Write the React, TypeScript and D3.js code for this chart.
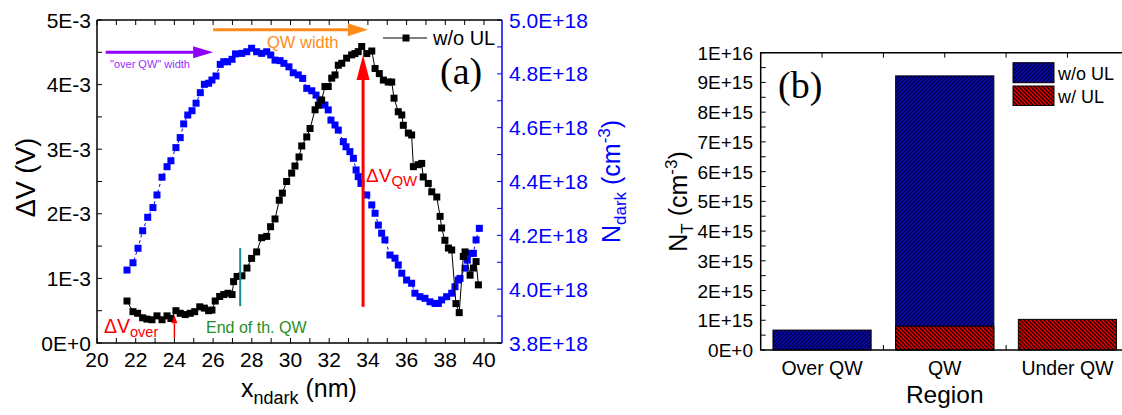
import React from "react";
import * as d3 from "d3";

// ---- panel (a): dV vs position (black, left axis, units 1E-3 V)
const xDv = [21.55, 21.86, 22.1, 22.36, 22.58, 22.84, 23.1, 23.36, 23.62, 23.82, 24.08, 24.3, 24.56, 24.82, 25.05, 25.31, 25.55, 25.77, 25.94, 26.11, 26.34, 26.55, 26.77, 26.98, 27.06, 27.24, 27.49, 27.75, 27.99, 28.25, 28.51, 28.77, 28.97, 29.2, 29.42, 29.58, 29.8, 30.06, 30.23, 30.44, 30.58, 30.84, 31.01, 31.27, 31.44, 31.61, 31.78, 31.95, 32.13, 32.3, 32.47, 32.65, 32.9, 33.16, 33.33, 33.5, 33.68, 33.94, 34.2, 34.37, 34.59, 34.8, 35.05, 35.23, 35.35, 35.57, 35.75, 35.83, 36.09, 36.26, 36.35, 36.6, 36.78, 36.86, 37.12, 37.3, 37.56, 37.73, 37.81, 37.98, 38.16, 38.33, 38.55, 38.72, 38.93, 39.02, 39.28, 39.45, 39.59, 39.71];
const dV = [0.65, 0.485, 0.46, 0.39, 0.37, 0.36, 0.42, 0.36, 0.42, 0.38, 0.5, 0.46, 0.44, 0.46, 0.485, 0.56, 0.54, 0.5, 0.51, 0.65, 0.72, 0.75, 0.77, 0.75, 0.95, 1.03, 1.04, 1.16, 1.31, 1.41, 1.63, 1.65, 1.8, 1.92, 2.21, 2.32, 2.5, 2.63, 2.74, 2.88, 3.05, 3.19, 3.32, 3.61, 3.68, 3.76, 3.97, 3.97, 4.1, 4.15, 4.3, 4.33, 4.41, 4.46, 4.48, 4.51, 4.59, 4.48, 4.52, 4.25, 4.17, 4.07, 4.04, 4.04, 3.79, 3.58, 3.53, 3.37, 3.25, 3.22, 2.73, 2.76, 2.78, 2.57, 2.47, 2.34, 2.26, 1.96, 1.78, 1.59, 1.47, 1.44, 0.61, 0.47, 1.34, 1.41, 1.05, 1.16, 1.26, 0.9];

// N_dark (blue, right axis, units 1E+18 cm^-3)
const xN = [21.55, 21.86, 22.12, 22.36, 22.62, 22.89, 23.1, 23.36, 23.62, 23.82, 24.08, 24.3, 24.48, 24.69, 24.91, 25.12, 25.34, 25.55, 25.77, 25.94, 26.15, 26.37, 26.55, 26.75, 26.98, 27.16, 27.48, 27.74, 27.99, 28.25, 28.51, 28.77, 28.98, 29.2, 29.46, 29.66, 29.92, 30.14, 30.4, 30.63, 30.84, 31.1, 31.32, 31.52, 31.78, 31.95, 32.09, 32.3, 32.47, 32.73, 32.87, 33.07, 33.25, 33.39, 33.5, 33.64, 33.94, 34.2, 34.37, 34.54, 34.71, 34.88, 35.14, 35.4, 35.57, 35.75, 36.0, 36.26, 36.43, 36.69, 36.95, 37.21, 37.47, 37.64, 37.81, 38.07, 38.33, 38.5, 38.67, 38.76, 39.02, 39.14, 39.28, 39.45, 39.59, 39.76];
const nDark = [4.071, 4.098, 4.152, 4.217, 4.267, 4.303, 4.35, 4.416, 4.455, 4.477, 4.526, 4.563, 4.614, 4.647, 4.663, 4.691, 4.73, 4.761, 4.765, 4.777, 4.792, 4.835, 4.845, 4.845, 4.854, 4.874, 4.876, 4.882, 4.895, 4.882, 4.876, 4.882, 4.87, 4.851, 4.849, 4.839, 4.826, 4.804, 4.796, 4.783, 4.746, 4.737, 4.721, 4.703, 4.684, 4.666, 4.628, 4.61, 4.591, 4.548, 4.529, 4.511, 4.486, 4.443, 4.418, 4.393, 4.35, 4.313, 4.282, 4.238, 4.208, 4.183, 4.127, 4.115, 4.09, 4.059, 4.034, 4.022, 3.985, 3.972, 3.966, 3.953, 3.947, 3.947, 3.96, 3.972, 3.985, 4.009, 4.034, 4.04, 4.078, 4.108, 4.133, 4.133, 4.183, 4.226];

const xTicksA = [20, 22, 24, 26, 28, 30, 32, 34, 36, 38, 40];
const dvTicks = [0, 1, 2, 3, 4, 5];
const nTicks = [3.8, 4.0, 4.2, 4.4, 4.6, 4.8, 5.0];

// ---- panel (b): trap density per region
const regions = ["Over QW", "QW", "Under QW"];
const ntWoUL = [6.7e14, 9.22e15, NaN];
const ntWUL = [NaN, 8.0e14, 1.03e15];
const ntTicks = d3.range(11).map((i) => i * 1e15);

const FONT = "Liberation Sans, Arial, sans-serif";
const SERIF = "Liberation Serif, Times New Roman, serif";

function Arrow({ x1, y1, x2, y2, color, w, hl, hw }: any) {
  const ang = Math.atan2(y2 - y1, x2 - x1);
  const bx = x2 - hl * Math.cos(ang);
  const by = y2 - hl * Math.sin(ang);
  const px = -Math.sin(ang) * hw / 2;
  const py = Math.cos(ang) * hw / 2;
  return (
    <g>
      <line x1={x1} y1={y1} x2={bx} y2={by} stroke={color} strokeWidth={w} />
      <polygon points={`${x2},${y2} ${bx + px},${by + py} ${bx - px},${by - py}`} fill={color} />
    </g>
  );
}

export default function App() {
  // scales (a)
  const x = d3.scaleLinear([20, 40.93], [97, 502]);
  const y = d3.scaleLinear([0, 5], [343, 20]);
  const yN = d3.scaleLinear([3.8, 5.0], [343, 20]);

  const dvPts = xDv.map((v, i) => [v, dV[i]]);
  const nPts = xN.map((v, i) => [v, nDark[i]]);
  const lineDv = d3.line<number[]>().x((d) => x(d[0])).y((d) => y(d[1]));
  const lineN = d3.line<number[]>().x((d) => x(d[0])).y((d) => yN(d[1]));

  // scales (b)
  const xb = d3.scaleBand(regions, [760.7, 1128.8]).paddingInner(0.2).paddingOuter(0.1);
  const yb = d3.scaleLinear([0, 1e16], [350, 52.7]);
  const bounds = [1, 2].map((i) => xb.range()[0] + xb.step() * i);

  const ms = 7;
  const blue = "#0000ff";

  return (
    <svg width={1122} height={415} style={{ position: "absolute", left: 0, top: 0, background: "#fff" }} fontFamily={FONT}>
      <defs>
        <pattern id="hatchBlue" patternUnits="userSpaceOnUse" width={4} height={4}>
          <rect width={4} height={4} fill="#0a0ab8" />
          <path d="M-1,1 l2,-2 M0,4 l4,-4 M3,5 l2,-2" stroke="#000040" strokeWidth={1.4} />
        </pattern>
        <pattern id="hatchRed" patternUnits="userSpaceOnUse" width={4} height={4}>
          <rect width={4} height={4} fill="#ee0000" />
          <path d="M-1,3 l2,2 M0,0 l4,4 M3,-1 l2,2" stroke="#200000" strokeWidth={1.4} />
        </pattern>
      </defs>

      {/* ================= panel (a) ================= */}
      {/* x ticks bottom and top (inward) */}
      {d3.range(20, 41, 1).map((t) => (
        <g key={"xt" + t}>
          <line x1={x(t)} x2={x(t)} y1={343} y2={338} stroke="#000" />
          <line x1={x(t)} x2={x(t)} y1={20} y2={25} stroke="#000" />
        </g>
      ))}
      {xTicksA.map((t) => (
        <text key={"xl" + t} x={x(t)} y={367} fontSize={21} textAnchor="middle">{t}</text>
      ))}
      {/* left y ticks */}
      {d3.range(0, 5.01, 0.5).map((t) => (
        <line key={"yt" + t} x1={97} x2={102} y1={y(t)} y2={y(t)} stroke="#000" />
      ))}
      {dvTicks.map((t) => (
        <text key={"yl" + t} x={91} y={y(t) + 7.5} fontSize={21} textAnchor="end">
          {t === 0 ? "0E+0" : `${t}E-3`}
        </text>
      ))}
      {/* right (blue) y ticks */}
      {d3.range(3.8, 5.001, 0.1).map((t) => (
        <line key={"nt" + t} x1={502} x2={497} y1={yN(t)} y2={yN(t)} stroke={blue} />
      ))}
      {nTicks.map((t) => (
        <text key={"nl" + t} x={509} y={yN(t) + 7.5} fontSize={21} fill={blue}>{`${t.toFixed(1)}E+18`}</text>
      ))}
      {/* frame */}
      <path d={`M97,20 V343 H502`} fill="none" stroke="#000" strokeWidth={1.5} />
      <line x1={97} x2={502} y1={20} y2={20} stroke="#000" strokeWidth={1.5} />
      <line x1={502} x2={502} y1={20} y2={343} stroke={blue} strokeWidth={1.5} />

      {/* series */}
      <path d={lineN(nPts) || ""} fill="none" stroke={blue} strokeWidth={1} strokeDasharray="3,3" />
      {nPts.map((d, i) => (
        <rect key={"n" + i} x={x(d[0]) - ms / 2} y={yN(d[1]) - ms / 2} width={ms} height={ms} fill={blue} />
      ))}
      <path d={lineDv(dvPts) || ""} fill="none" stroke="#000" strokeWidth={1} />
      {dvPts.map((d, i) => (
        <rect key={"d" + i} x={x(d[0]) - ms / 2} y={y(d[1]) - ms / 2} width={ms} height={ms} fill="#000" />
      ))}

      {/* annotations */}
      <Arrow x1={x(26)} y1={y(4.85)} x2={x(34.0)} y2={y(4.85)} color="#ff8c1a" w={3} hl={20} hw={13} />
      <text x={267} y={48} fontSize={16.5} fill="#ff8c1a">QW width</text>
      <Arrow x1={x(20.45)} y1={y(4.5)} x2={x(26)} y2={y(4.5)} color="#8f00ff" w={3} hl={20} hw={12} />
      <text x={110} y={68} fontSize={11} fill="#9a30ff">"over QW" width</text>
      <Arrow x1={x(33.75)} y1={y(0.56)} x2={x(33.75)} y2={y(4.46)} color="#ff0000" w={3} hl={25} hw={13} />
      <text x={366} y={182} fontSize={19} fill="#ff0000">ΔV<tspan fontSize={15} dy={4}>QW</tspan></text>
      <Arrow x1={x(24)} y1={y(0.08)} x2={x(24)} y2={y(0.43)} color="#ff0000" w={1.5} hl={8} hw={6} />
      <text x={104} y={333} fontSize={19.5} fill="#ff0000">ΔV<tspan fontSize={14.5} dy={4}>over</tspan></text>
      <line x1={x(27.4)} x2={x(27.4)} y1={y(1.47)} y2={y(0.57)} stroke="#1a8a8a" strokeWidth={2} />
      <text x={206} y={333} fontSize={16} fill="#1f8f1f">End of th. QW</text>

      {/* legend (a) */}
      <line x1={383} x2={427} y1={38} y2={38} stroke="#000" strokeWidth={1} />
      <rect x={406 - ms / 2} y={38 - ms / 2} width={ms} height={ms} fill="#000" />
      <text x={433} y={45} fontSize={20}>w/o UL</text>
      <text x={440} y={84} fontSize={38} fontFamily={SERIF}>(a)</text>

      {/* axis titles (a) */}
      <text transform="translate(35,177.5) rotate(-90)" fontSize={27} textAnchor="middle">ΔV (V)</text>
      <text x={299} y={397} fontSize={25} textAnchor="middle">
        x<tspan fontSize={18} dy={7}>ndark</tspan><tspan dy={-7}> (nm)</tspan>
      </text>
      <text transform="translate(620,181.5) rotate(-90)" fontSize={25} textAnchor="middle" fill={blue}>
        N<tspan fontSize={17} dy={6}>dark</tspan><tspan dy={-6}> (cm</tspan><tspan fontSize={17} dy={-10}>-3</tspan><tspan dy={10}>)</tspan>
      </text>

      {/* ================= panel (b) ================= */}
      {ntTicks.map((t) => (
        <text key={"bl" + t} x={753} y={yb(t) + 7} fontSize={19} textAnchor="end">
          {t === 0 ? "0E+0" : t.toExponential(0).toUpperCase()}
        </text>
      ))}
      {d3.range(21).map((i) => (
        <line key={"bt" + i} x1={760.7} x2={765.7} y1={yb(i * 5e14)} y2={yb(i * 5e14)} stroke="#000" />
      ))}
      {[...regions.map((r) => (xb(r) as number) + xb.bandwidth() / 2), ...bounds].map((p, i) => (
        <g key={"bx" + i}>
          <line x1={p} x2={p} y1={52.7} y2={57.7} stroke="#000" />
          <line x1={p} x2={p} y1={350} y2={345} stroke="#000" />
        </g>
      ))}
      {regions.map((r, i) => (
        <g key={"bar" + r}>
          {!isNaN(ntWoUL[i]) && (
            <rect x={xb(r)} y={yb(ntWoUL[i])} width={xb.bandwidth()} height={yb(0) - yb(ntWoUL[i])}
              fill="url(#hatchBlue)" stroke="#000" strokeWidth={1} />
          )}
          {!isNaN(ntWUL[i]) && (
            <rect x={xb(r)} y={yb(ntWUL[i])} width={xb.bandwidth()} height={yb(0) - yb(ntWUL[i])}
              fill="url(#hatchRed)" stroke="#000" strokeWidth={1} />
          )}
          <text x={(xb(r) as number) + xb.bandwidth() / 2} y={375} fontSize={19.5} textAnchor="middle">{r}</text>
        </g>
      ))}
      <path d={`M1122,52.7 H760.7 V350 H1122`} fill="none" stroke="#000" strokeWidth={1.5} />

      {/* legend (b) */}
      <rect x={1013} y={62.7} width={41} height={20} fill="url(#hatchBlue)" stroke="#000" />
      <text x={1058} y={79.5} fontSize={18}>w/o UL</text>
      <rect x={1013} y={86} width={41} height={19.5} fill="url(#hatchRed)" stroke="#000" />
      <text x={1058} y={103} fontSize={18}>w/ UL</text>
      <text x={778} y={98} fontSize={38} fontFamily={SERIF}>(b)</text>

      {/* axis titles (b) */}
      <text x={xb("QW")! + xb.bandwidth() / 2} y={403} fontSize={24.5} textAnchor="middle">Region</text>
      <text transform="translate(687,201.5) rotate(-90)" fontSize={25} textAnchor="middle">
        N<tspan fontSize={17} dy={6}>T</tspan><tspan dy={-6}> (cm</tspan><tspan fontSize={17} dy={-10}>-3</tspan><tspan dy={10}>)</tspan>
      </text>
    </svg>
  );
}
